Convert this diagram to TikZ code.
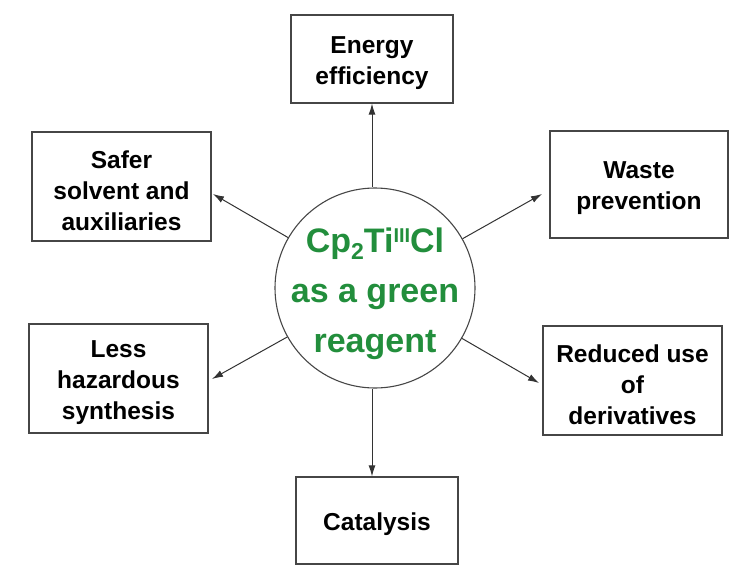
\documentclass[tikz,border=0pt]{standalone}
\usepackage{fontspec}
\setmainfont{Liberation Sans}
\usetikzlibrary{arrows.meta}
\definecolor{grn}{RGB}{34,142,60}
\definecolor{edge}{RGB}{70,70,70}
\begin{document}
\begin{tikzpicture}[x=1pt,y=-1pt,
  box/.style={draw=edge, line width=1.2pt, inner sep=0pt},
  boxtext/.style={align=center, inner sep=0pt, yshift=-4pt,
    font=\bfseries\fontsize{24.5}{31}\selectfont},
  hub/.style={draw=edge, line width=1.1pt, circle, inner sep=0pt, minimum size=200pt},
  hubtext/.style={align=center, inner sep=0pt, yshift=-6pt, text=grn,
    font=\bfseries\fontsize{34}{50}\selectfont},
  link/.style={draw=black!80, line width=1pt, -{Latex[length=11pt,width=7pt]}}]
\useasboundingbox (0,0) rectangle (737,571);
\node[hub, label={[hubtext]center:{Cp\raisebox{-7pt}{\fontsize{23}{23}\selectfont 2}Ti\raisebox{10pt}{\fontsize{20}{20}\selectfont III}Cl\\as a green\\reagent}}] (c) at (375,288) {};
\node[box, minimum width=162pt, minimum height=88pt, label={[boxtext]center:{Energy\\efficiency}}] (en) at (372,59) {};
\node[box, minimum width=179pt, minimum height=109pt, label={[boxtext]center:{Safer\\solvent and\\auxiliaries}}] (sa) at (121.5,186.5) {};
\node[box, minimum width=178pt, minimum height=107pt, label={[boxtext]center:{Waste\\prevention}}] (wa) at (639,184.5) {};
\node[box, minimum width=179pt, minimum height=109pt, label={[boxtext]center:{Less\\hazardous\\synthesis}}] (le) at (118.5,378.5) {};
\node[box, minimum width=179pt, minimum height=109pt, label={[boxtext]center:{Reduced use\\of\\derivatives}}] (re) at (632.5,380.5) {};
\node[box, minimum width=162pt, minimum height=87pt, label={[boxtext]center:{Catalysis}}] (ca) at (377,520.5) {};
\coordinate (sat) at (213,194);
\coordinate (wat) at (542,194);
\coordinate (let) at (212,379);
\coordinate (ret) at (539,383);
\draw[link] (en.south |- c.north) -- (en.south);
\draw[link] (en.south |- c.south) -- (en.south |- ca.north);
\draw[link] (c) -- (sat);
\draw[link] (c) -- (wat);
\draw[link] (c) -- (let);
\draw[link] (c) -- (ret);
\end{tikzpicture}
\end{document}
